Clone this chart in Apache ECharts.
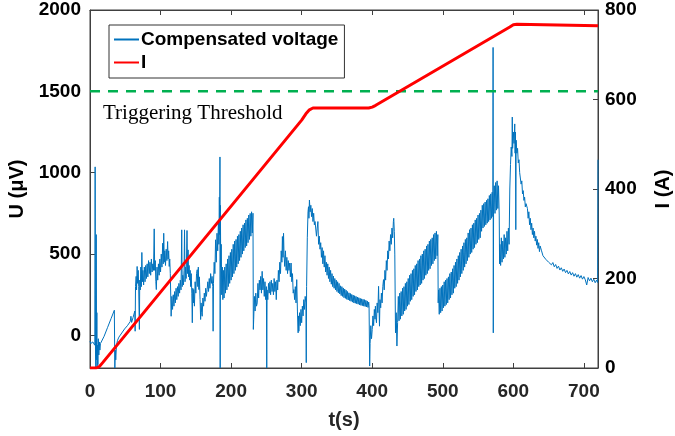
<!DOCTYPE html>
<html>
<head>
<meta charset="utf-8">
<script src="https://cdn.jsdelivr.net/npm/echarts@6.0.0/dist/echarts.min.js"></script>
<style>
  html,body{margin:0;padding:0;background:#fff;}
  #main{width:675px;height:436px;}
</style>
</head>
<body>
<div id="main"></div>
<script>
// 坐标轴刻度
var xTicks = [0, 100, 200, 300, 400, 500, 600, 700];
var uTicks = [0, 500, 1000, 1500, 2000];
var iTicks = [0, 200, 400, 600, 800];
var threshold = 1500;

// 电流 I (A)
var currentT = [0, 9, 13, 18, 300, 306, 311, 316, 395, 400, 405, 595, 600, 605, 720];
var currentA = [0, 0, 3, 12, 554, 568, 577, 581, 581, 583, 587, 762, 767, 768, 765];

// 补偿电压 U (μV)  [t, U]
var voltage = [
  [0,-35],[1,-50],[2,-38],[3,-48],[4,-40],[5,-52],[6,-42],[6.8,-60],[7.3,1036],[7.8,-120],
  [8.3,-200],[8.8,620],[9.3,-150],[9.7,140],[10.1,-200],[10.6,-60],[11.2,-180],[11.8,-20],[12.5,-120],[13.2,-40],
  [14,-90],[14.8,-50],[15.5,-60],[20,-5],[25,50],[30,105],[34.5,155],[35.2,-200],[35.8,-90],[36.5,-150],
  [37.5,-60],[39,-30],[41,-10],[43,-20],[45,15],[47,10],[49,40],[51,35],[53,60],[55,55],
  [57,85],[58,118],[59,80],[61,110],[62.5,100],[63.5,150],
  [64,26],[64.5,300],[65.4,363],[66,280],[66.8,424],[67.5,320],[68.3,400],[69,300],[70,37],[70.5,340],
  [71.3,280],[72,420],[72.8,300],[73.5,510],[74.3,330],[75,400],[76,310],[77,420],[78,330],[79,430],
  [80,350],[81,440],[82,360],[83,460],[84,380],[85,450],[86,370],[87,470],[88,390],[89,440],
  [90,400],[91,655],[91.7,400],[92.5,460],[93.3,330],[94,282],[95,420],[96,340],[97,440],[98,370],
  [99,470],[100,390],[101,500],[102,420],[103,567],[103.8,440],[104.5,628],[105.3,450],[106,520],[107,430],
  [108,530],[109,460],[110,577],[110.7,470],[111.5,520],[112.3,424],[113,470],[113.8,380],[114.5,230],[115,118],
  [116,240],[117,160],[118,250],[119,180],[120,270],[121,200],[122,290],[123,220],[124,300],[125,240],
  [126,320],[127,260],[128,340],[129,280],[130,649],[130.7,300],[131.5,370],[132.5,310],[133.3,400],[134,649],
  [134.7,330],[135.5,420],[136.3,350],[137.5,645],[138.3,380],[139,526],[139.8,360],[140.5,430],[141.3,340],[142,400],
  [142.7,300],[143.5,380],[144.3,260],[145,78],[145.7,290],[146.5,200],[147,282],[148,180],[149,330],[150,260],
  [151,380],[152,404],[152.8,300],[153.5,420],[154.3,282],[155,360],[156,220],[156.8,98],[157.5,200],[158.3,140],
  [159,118],[160,230],[161,180],[162,260],[163,210],[164,290],[165,240],[166,282],[167,330],[168,270],
  [169,350],[170,290],[171,380],[172,320],[173,363],[174,300],[174.5,26],[175,320],[176,450],[177,380],
  [178,588],[179,450],[180,628],[181,520],[182,700],[182.7,560],[183.3,850],[183.8,620],[184.2,1097],[184.5,-200],
  [184.8,800],[185.3,420],[186,560],[186.7,250],[187.5,420],[188.3,220],[189,400],[190,230],[191,420],[192,260],
  [193,440],[194,280],[195,470],[196,300],[197,490],[198,320],[199,510],[200,340],[201,530],[202,360],
  [203,560],[204,380],[205,580],[206,400],[207,590],[208,420],[209,610],[210,440],[211,620],[212,460],
  [213,640],[214,480],[215,660],[216,500],[217,680],[218,520],[219,690],[220,540],[221,710],[222,550],
  [223,720],[224,570],[225,740],[226,590],[227,750],[228,610],[229,760],[230,630],[231,751],[231.5,37],
  [232,100],[233,240],[234,150],[235,260],[236,180],[237,200],[238,320],[239,230],[240,340],[241,280],
  [242,363],[243,260],[244,394],[245,280],[246,350],[247,240],[248,330],[249,220],[250,300],[250.5,-200],
  [251,280],[252,220],[253,320],[254,260],[255,330],[256,250],[257,340],[258,270],[259,320],[260,250],
  [261,350],[262,270],[263,330],[264,220],[265,340],[266,280],[267,400],[268,330],[269,450],[270,380],
  [271,520],[272,450],[272.7,608],[273.5,480],[274.3,628],[275,500],[276,424],[277,520],[278,400],[279,480],
  [280,380],[281,460],[282,400],[283,445],[284,360],[285,445],[286,330],[287,380],[288,260],[289,282],
  [290,220],[291,300],[292,200],[293,343],[294,150],[295,16],[295.4,120],[296,26],[297,140],[298,60],
  [299,160],[300,78],[301,180],[302,120],[303,220],[304,160],[305,240],[306,200],[306.5,-167],[307,300],
  [308,600],[309,760],[309.7,791],[310.3,720],[311,832],[312,760],[313,800],[314,730],[315,780],[316,700],
  [317,751],[318,680],[319,700],[320,690],[321,610],[322,660],[323,700],[324,560],[325,610],[326,530],
  [327,570],[328,480],[329,540],[330,440],[331,520],[332,420],[333,490],[334,390],[335,450],[336,370],
  [337,440],[338,350],[339,420],[340,330],[341,400],[342,315],[343,380],[344,300],[345,365],[346,290],
  [347,350],[348,280],[349,340],[350,270],[351,330],[352,262],[353,320],[354,255],[355,305],[356,245],
  [357,300],[358,240],[359,292],[360,232],[361,285],[362,228],[363,278],[364,222],[365,270],[366,218],
  [367,262],[368,214],[369,258],[370,210],[371,252],[372,205],[373,248],[374,200],[375,244],[376,198],
  [377,240],[378,195],[379,236],[380,192],[381,232],[382,188],[383,228],[384,185],[385,225],[386,183],
  [387,222],[388,180],[389,220],[390,178],[391,216],[392,175],[393,212],[394,172],[395,205],[395.5,185],
  [396.4,-188],[397,-50],[398,60],
  [399,-20],[400,37],[401,120],[402,60],[403,160],[404,100],[404.5,180],[405.3,110],[406,78],[407,200],
  [408,140],[409,302],[409.7,160],[410.3,57],[411,220],[412,170],[413,260],[414,200],[415,300],[416,343],
  [417,280],[418,400],[419,340],[420,460],[421,400],[422,520],[423,470],[424,580],[425,520],[426,620],
  [427,560],[428,660],[429,600],[430,700],[430.5,720],[431.3,640],[432,500],[433,16],[434,140],[435,-65],
  [436,80],[437,240],[438,90],[439,260],[440,100],[441,270],[442,120],[443,290],[444,130],[445,300],
  [446,150],[447,320],[448,160],[449,330],[450,180],[451,350],[452,190],[453,370],[454,210],[455,380],
  [456,220],[457,400],[458,240],[459,410],[460,250],[461,430],[462,270],[463,440],[464,280],[465,460],
  [466,300],[467,470],[468,310],[469,490],[470,320],[471,500],[472,340],[473,520],[474,350],[475,530],
  [476,370],[477,550],[478,380],[479,560],[480,400],[481,580],[482,410],[483,590],[484,430],[485,600],
  [486,440],[487,620],[488,460],[489,630],[490,470],[491,640],[492,490],[493,620],[493.5,200],
  [494,280],[495,130],[496,290],[497,140],[498,300],[499,150],[500,310],[501,170],[502,330],[503,180],
  [504,340],[505,190],[506,350],[507,200],[508,360],[509,220],[510,380],[511,230],[512,390],[513,250],
  [514,410],[515,260],[516,430],[517,290],[518,450],[519,300],[520,470],[521,320],[522,490],[523,340],
  [524,510],[525,360],[526,530],[527,380],[528,550],[529,400],[530,570],[531,420],[532,590],[533,440],
  [534,600],[535,460],[536,630],[537,480],[538,650],[539,500],[540,660],[541,510],[542,680],[543,530],
  [544,690],[545,540],[546,710],[547,560],[548,720],[549,570],[550,740],[551,590],[552,750],[553,600],
  [554,770],[555,640],[556,800],[557,660],[558,810],[559,670],[560,820],[561,680],[562,830],[563,690],
  [564,840],[565,700],[566,860],[567,710],[568,870],[569,720],[570,880],[571,730],[571.3,1770],[571.6,16],
  [572,760],[573,920],[574,750],[575,940],[576,770],[577,950],[578,780],[579,920],[580,740],[580.5,440],
  [581,560],[582,430],[583,600],[584,450],[585,580],[586,470],[587,620],[588,480],[589,600],[590,500],
  [591,640],[592,520],[593,660],[594,560],[595,900],[596,1050],[597,1158],[598,1100],[598.5,1342],[599,1150],
  [600,1250],[601,1180],[602,1300],[602.5,1120],[603,1250],[603.5,650],[604,1200],[605,1120],[606,1150],[607,1060],
  [608,1080],[609,1000],[610,1010],[611,930],[612,950],[613,870],[614,890],[615,830],[616,850],[617,790],
  [618,810],[620,780],[621,720],[622,760],[623,680],[624,720],[625,650],[626,690],[627,620],[628,660],
  [629,600],[630,640],[631,580],[632,610],[633,555],[634,590],[635,535],[636,570],[637,515],[638,550],
  [640,520],[642,490],[644,500],[646,468],[648,480],[650,450],[652,462],[654,434],[656,448],[658,422],
  [660,436],[662,412],[664,426],[666,402],[668,416],[670,394],[672,408],[674,386],[676,400],[678,378],
  [680,393],[682,371],[684,386],[686,364],[688,380],[690,358],[692,374],[694,352],[696,368],[698,346],
  [700,362],[702,342],[704,310],[706,356],[708,336],[710,352],[712,330],[714,346],[716,324],[718,340],
  [719.5,325],[720,1080]
];

var currentData = currentT.map(function (t, i) { return [t, currentA[i]]; });

var axisColor = '#404040';
var labelColor = '#262626';
// 不要千位分隔符
var plain = function (v) { return String(v); };

var myChart = echarts.init(document.getElementById('main'));
var option = {
  animation: false,
  grid: {
    left: 90, right: 77, top: 10, bottom: 68, outerBoundsMode: 'none', containLabel: false,
    show: true, borderColor: axisColor, borderWidth: 1, backgroundColor: 'transparent'
  },
  legend: {
    orient: 'vertical',
    left: 109,
    top: 25,
    padding: [5, 6, 6, 4],
    itemGap: 4,
    itemWidth: 25,
    itemHeight: 16,
    borderColor: '#333',
    borderWidth: 1,
    backgroundColor: '#fff',
    itemStyle: { opacity: 0 },
    textStyle: { fontFamily: 'Liberation Sans', fontWeight: 'bold', fontSize: 19, color: '#000', padding: [0, 0, 0, -3] },
    data: ['Compensated voltage', 'I']
  },
  xAxis: [{
    type: 'value', min: 0, max: 720, interval: 100,
    name: 't(s)', nameLocation: 'middle', nameGap: 42,
    nameTextStyle: { fontFamily: 'Liberation Sans', fontWeight: 'bold', fontSize: 20, color: labelColor },
    axisLine: { show: true, onZero: false, lineStyle: { color: axisColor } },
    axisTick: { show: true, inside: true, length: 5, lineStyle: { color: axisColor } },
    axisLabel: { fontFamily: 'Liberation Sans', fontWeight: 'bold', fontSize: 19, color: labelColor, margin: 14, showMaxLabel: false, formatter: plain },
    splitLine: { show: false }
  }, {
    type: 'value', min: 0, max: 720, interval: 100, position: 'top',
    axisLine: { show: true, onZero: false, lineStyle: { color: axisColor } },
    axisTick: { show: true, inside: true, length: 5, lineStyle: { color: axisColor } },
    axisLabel: { show: false },
    splitLine: { show: false }
  }],
  yAxis: [{
    type: 'value', min: -200, max: 2000,
    name: 'U (μV)', nameLocation: 'middle', nameGap: 54,
    nameTextStyle: { fontFamily: 'Liberation Sans', fontWeight: 'bold', fontSize: 20, color: '#000' },
    axisLine: { show: true, onZero: false, lineStyle: { color: axisColor } },
    axisTick: { show: true, inside: true, length: 5, customValues: uTicks, lineStyle: { color: axisColor } },
    axisLabel: { fontFamily: 'Liberation Sans', fontWeight: 'bold', fontSize: 19, color: '#000', margin: 9, customValues: uTicks, formatter: plain },
    splitLine: { show: false }
  }, {
    type: 'value', min: 0, max: 800, interval: 200, position: 'right',
    name: 'I (A)', nameLocation: 'middle', nameGap: 55,
    nameTextStyle: { fontFamily: 'Liberation Sans', fontWeight: 'bold', fontSize: 20, color: '#000' },
    axisLine: { show: true, onZero: false, lineStyle: { color: axisColor } },
    axisTick: { show: true, inside: true, length: 5, lineStyle: { color: axisColor } },
    axisLabel: { fontFamily: 'Liberation Sans', fontWeight: 'bold', fontSize: 19, color: '#000', margin: 7, formatter: plain },
    splitLine: { show: false }
  }],
  graphic: [{
    type: 'text', left: 103, top: 103,
    style: { text: 'Triggering Threshold', font: '21px "Liberation Serif"', fill: '#000' }
  }],
  series: [{
    name: 'Compensated voltage',
    type: 'line',
    data: voltage,
    showSymbol: false,
    symbol: 'none',
    lineStyle: { color: '#0072BD', width: 1 },
    itemStyle: { color: '#0072BD' },
    z: 2
  }, {
    name: 'threshold',
    type: 'line',
    data: [[0, threshold], [720, threshold]],
    symbol: 'none',
    lineStyle: { color: '#00B050', width: 2.5, type: [10, 8] },
    z: 3
  }, {
    name: 'I',
    type: 'line',
    yAxisIndex: 1,
    data: currentData,
    symbol: 'none',
    lineStyle: { color: '#ff0000', width: 3 },
    itemStyle: { color: '#ff0000' },
    z: 4
  }]
};
myChart.setOption(option);
</script>
</body>
</html>
